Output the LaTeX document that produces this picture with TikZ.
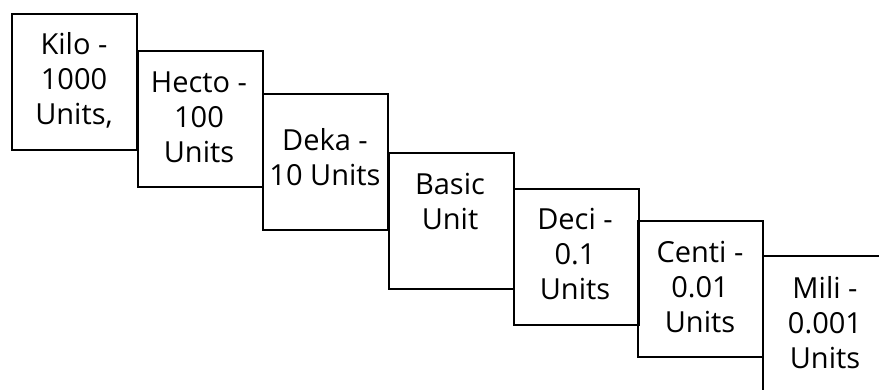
\documentclass[tikz,border=0pt]{standalone}
\usepackage{fontspec}
\setmainfont{Open Sans}
\begin{document}
\begin{tikzpicture}[x=1pt,y=-1pt,
  unitbox/.style={draw=black,line width=1.8pt,inner sep=0pt,
    minimum width=125pt,minimum height=136pt,anchor=north west},
  unittext/.style={align=center,inner sep=0pt,
    font=\fontsize{29}{35}\selectfont}]
\useasboundingbox (0,0) rectangle (879,389);
\fill[white] (0,0) rectangle (879,389);
\clip (0,0) rectangle (879,389);

% staircase of unit boxes, largest unit at the top left
\node[unitbox] (kilo)  at (11,13)  {};
\node[unitbox] (hecto) at (137,50) {};
\node[unitbox] (deka)  at (262,93) {};
\node[unitbox] (basic) at (388,152) {};
\node[unitbox] (deci)  at (513,188) {};
\node[unitbox] (centi) at (637,220) {};
\node[unitbox] (mili)  at (762,255) {};

% labels
\node[unittext] (kiloT)  at (74,80)   {Kilo -\\1000\\Units,};
\node[unittext] (hectoT) at (199,117) {Hecto -\\100\\Units};
\node[unittext] (dekaT)  at (325,157) {Deka -\\10 Units};
\node[unittext] (basicT) at (450,201) {Basic\\Unit};
\node[unittext] (deciT)  at (575,254) {Deci -\\0.1\\Units};
\node[unittext] (centiT) at (700,287) {Centi -\\0.01\\Units};
\node[unittext] (miliT)  at (825,323) {Mili -\\0.001\\Units};
\end{tikzpicture}
\end{document}
